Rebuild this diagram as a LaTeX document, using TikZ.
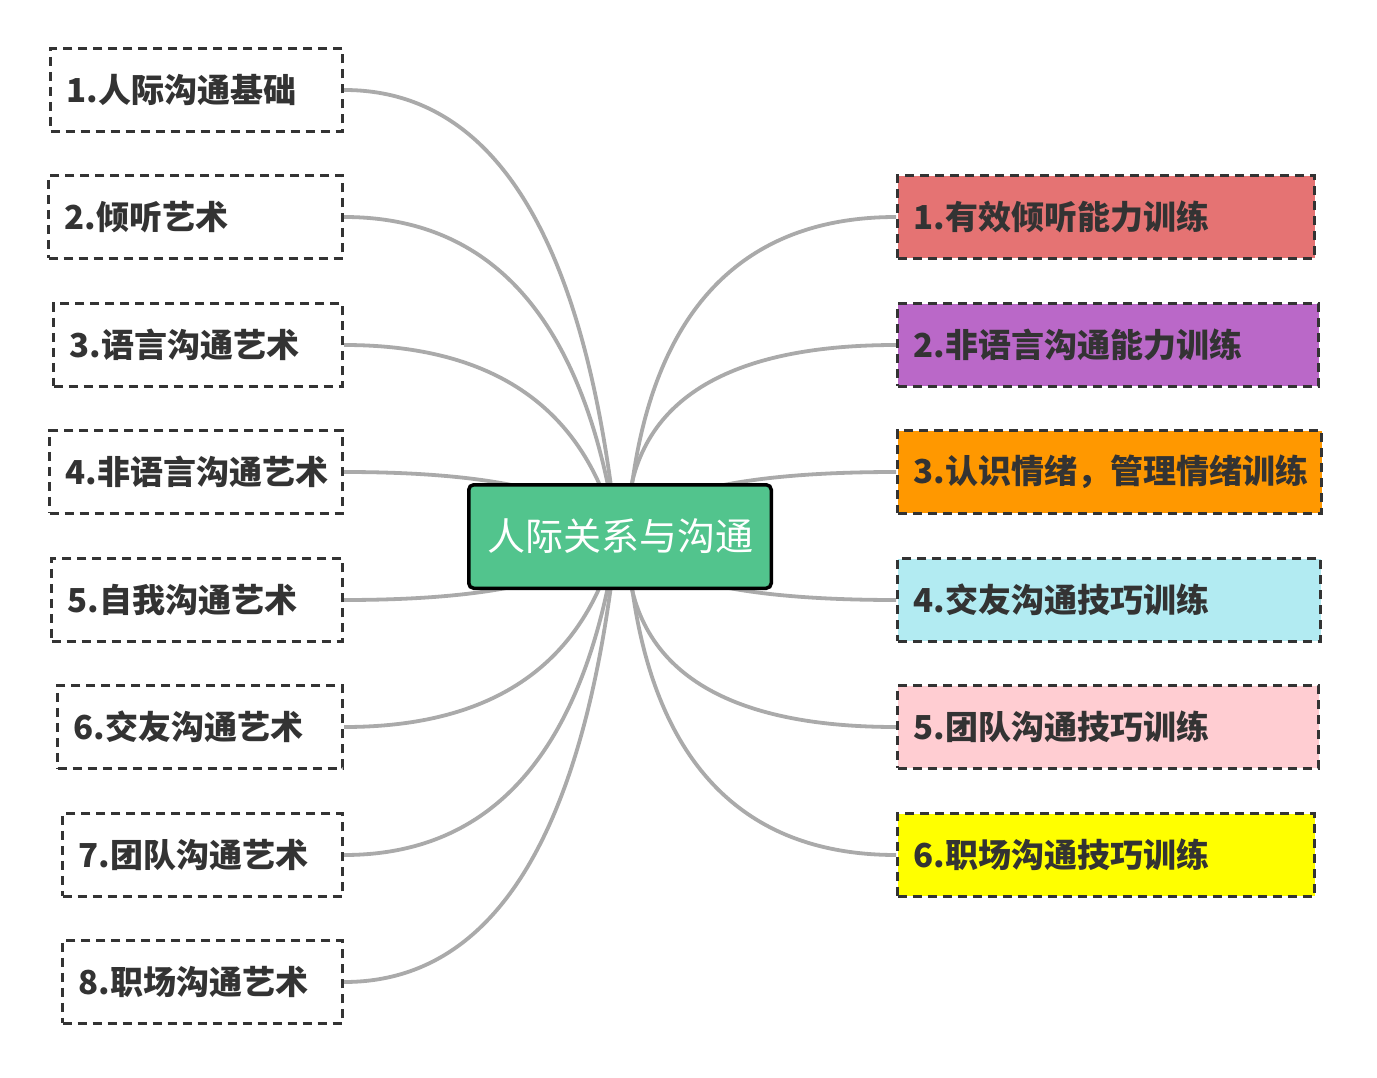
\documentclass[tikz,border=0pt]{standalone}
\usepackage{fontspec}
\setmainfont{Noto Sans CJK SC}
\definecolor{boxline}{HTML}{333333}
\definecolor{textgray}{HTML}{333333}
\definecolor{linkgray}{HTML}{AAAAAA}
\definecolor{centergreen}{HTML}{52C48D}
\definecolor{cred}{HTML}{E57373}
\definecolor{cpurple}{HTML}{BA68C8}
\definecolor{corange}{HTML}{FF9800}
\definecolor{ccyan}{HTML}{B2EBF2}
\definecolor{cpink}{HTML}{FFCDD2}
\definecolor{cyellow}{HTML}{FFFF00}
\pgfdeclarelayer{bgfill}
\pgfdeclarelayer{links}
\pgfsetlayers{bgfill,links,main}
\begin{document}
\begin{tikzpicture}[x=1pt,y=-1pt,
  topic/.style={draw=boxline, line width=3.2pt, dash pattern=on 9pt off 6pt,
    anchor=north west, minimum height=82.8pt, inner xsep=16pt, inner ysep=0pt,
    align=left, text=textgray, font=\fontsize{33}{39}\selectfont\bfseries},
  ltopic/.style={topic, fill=white},
  central/.style={draw=black, line width=3.5pt, rounded corners=5pt, fill=centergreen,
    minimum width=302.5pt, minimum height=103.5pt, inner sep=0pt, text=white,
    font=\fontsize{38}{45}\selectfont},
  link/.style={draw=linkgray, line width=3.8pt}]
\begin{pgfonlayer}{bgfill}
\fill[white] (0,0) rectangle (1377,1078);
\end{pgfonlayer}
\useasboundingbox (0,0) rectangle (1377,1078);

\node[central] (c) at (620,536.5) {人际关系与沟通};
\coordinate (cL) at (617,536);
\coordinate (cR) at (627,536);

\node[ltopic, text width=260pt] (l1) at (49,47) {1.人际沟通基础};
\node[ltopic, text width=262pt] (l2) at (47,174) {2.倾听艺术};
\node[ltopic, text width=257pt] (l3) at (52,302) {3.语言沟通艺术};
\node[ltopic, text width=261pt] (l4) at (48,429) {4.非语言沟通艺术};
\node[ltopic, text width=259pt] (l5) at (50,557) {5.自我沟通艺术};
\node[ltopic, text width=253pt] (l6) at (56,684) {6.交友沟通艺术};
\node[ltopic, text width=248pt] (l7) at (61,812) {7.团队沟通艺术};
\node[ltopic, text width=248pt] (l8) at (61,939) {8.职场沟通艺术};

\node[topic, fill=cred, text width=385pt] (r1) at (896,174) {1.有效倾听能力训练};
\node[topic, fill=cpurple, text width=389pt] (r2) at (896,302) {2.非语言沟通能力训练};
\node[topic, fill=corange, text width=392pt] (r3) at (896,429) {3.认识情绪，管理情绪训练};
\node[topic, fill=ccyan, text width=391pt] (r4) at (896,557) {4.交友沟通技巧训练};
\node[topic, fill=cpink, text width=389pt] (r5) at (896,684) {5.团队沟通技巧训练};
\node[topic, fill=cyellow, text width=385pt] (r6) at (896,812) {6.职场沟通技巧训练};

\begin{pgfonlayer}{links}
\draw[link] (l1.east) .. controls +(150.7,0) and +(-31.3,-297.3) .. (cL);
\draw[link] (l2.east) .. controls +(150.7,0) and +(-31.3,-212.7) .. (cL);
\draw[link] (l3.east) .. controls +(150.7,0) and +(-31.3,-127.3) .. (cL);
\draw[link] (l4.east) .. controls +(150.7,0) and +(-31.3,-42.7) .. (cL);
\draw[link] (l5.east) .. controls +(150.7,0) and +(-31.3,42.7) .. (cL);
\draw[link] (l6.east) .. controls +(150.7,0) and +(-31.3,127.3) .. (cL);
\draw[link] (l7.east) .. controls +(150.7,0) and +(-31.3,212.7) .. (cL);
\draw[link] (l8.east) .. controls +(150.7,0) and +(-31.3,297.3) .. (cL);
\draw[link] (r1.west) .. controls +(-164,0) and +(13.3,-212.7) .. (cR);
\draw[link] (r2.west) .. controls +(-180.7,0) and +(-3.3,-127.3) .. (cR);
\draw[link] (r3.west) .. controls +(-157.3,0) and +(20,-42.7) .. (cR);
\draw[link] (r4.west) .. controls +(-157.3,0) and +(20,42.7) .. (cR);
\draw[link] (r5.west) .. controls +(-180.7,0) and +(-3.3,127.3) .. (cR);
\draw[link] (r6.west) .. controls +(-164,0) and +(13.3,212.7) .. (cR);
\end{pgfonlayer}
\end{tikzpicture}
\end{document}
